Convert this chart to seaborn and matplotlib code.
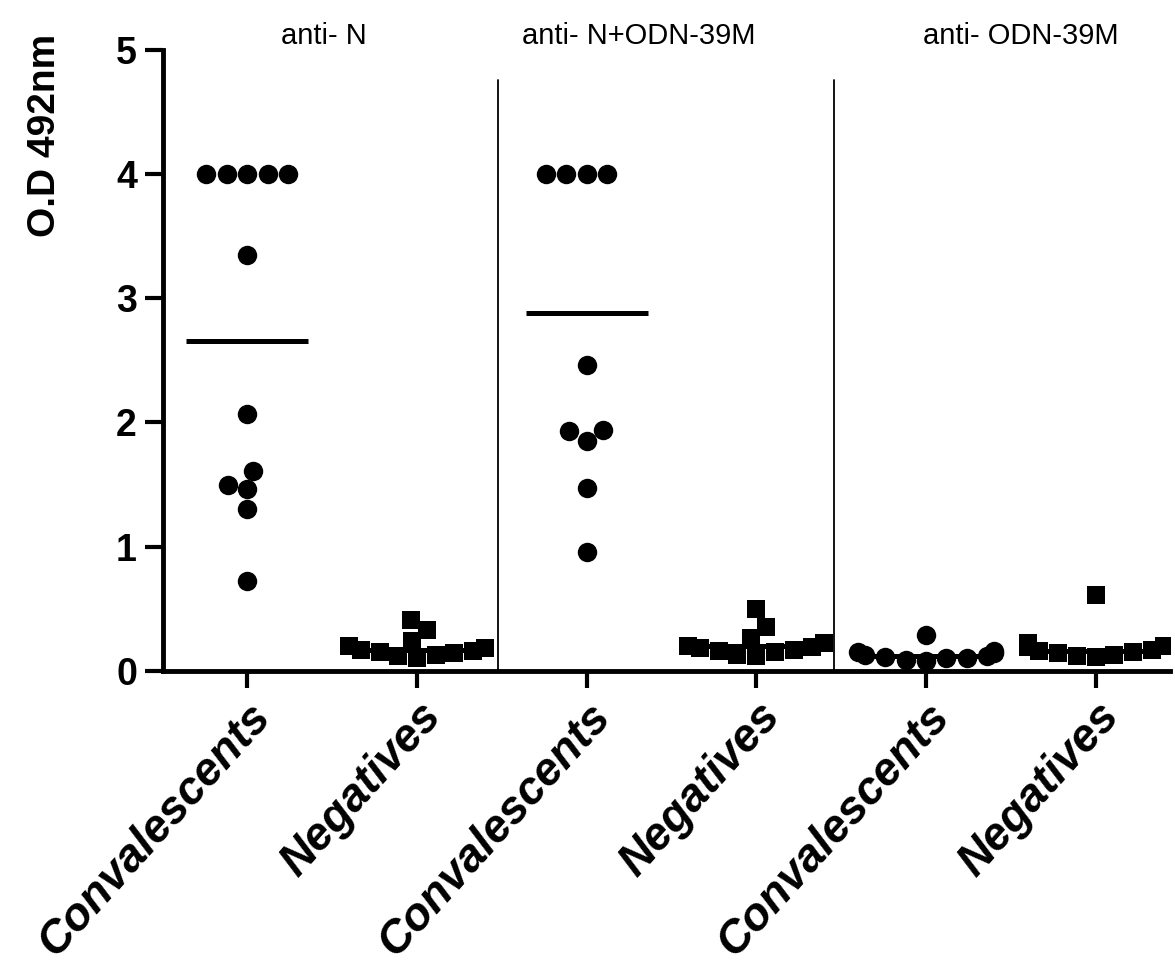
import pandas as pd
import seaborn as sns
import matplotlib.pyplot as plt

# groups, in plot order
groups = ["N_conv", "N_neg", "NODN_conv", "NODN_neg", "ODN_conv", "ODN_neg"]
tick_labels = ["Convalescents", "Negatives"] * 3
panel_titles = ["anti- N", "anti- N+ODN-39M", "anti- ODN-39M"]

# O.D 492nm values
n_conv = [4.0, 4.0, 4.0, 4.0, 4.0, 3.35, 2.07, 1.61, 1.5, 1.46, 1.3, 0.72]
n_neg = [0.41, 0.33, 0.24, 0.2, 0.18, 0.17, 0.16, 0.15, 0.14, 0.13,
         0.12, 0.1]
nodn_conv = [4.0, 4.0, 4.0, 4.0, 2.46, 1.94, 1.93, 1.85, 1.47, 0.96]
nodn_neg = [0.5, 0.35, 0.26, 0.22, 0.2, 0.19, 0.18, 0.17, 0.16, 0.15,
            0.13, 0.12]
odn_conv = [0.29, 0.16, 0.15, 0.14, 0.13, 0.12, 0.11, 0.1, 0.1, 0.09,
            0.08]
odn_neg = [0.61, 0.22, 0.2, 0.19, 0.17, 0.16, 0.15, 0.14, 0.13, 0.12,
           0.11]
# mean lines as drawn in the figure
means = [2.66, 0.17, 2.88, 0.2, 0.12, 0.16]

values = [n_conv, n_neg, nodn_conv, nodn_neg, odn_conv, odn_neg]
df = pd.DataFrame({"group": [g for g, v in zip(groups, values) for _ in v],
                   "od": [x for v in values for x in v]})
df_mean = pd.DataFrame({"group": groups, "od": means})

sns.set_style("ticks")
plt.rcParams["font.family"] = ["Liberation Sans", "DejaVu Sans"]
plt.rcParams.update({"text.color": "black", "axes.labelcolor": "black",
                     "xtick.color": "black", "ytick.color": "black",
                     "axes.edgecolor": "black"})

fig = plt.figure(figsize=(11.75, 9.65), dpi=100)
ax = fig.add_axes([0.139, 0.305, 0.857, 0.643])

sns.pointplot(data=df_mean, x="group", y="od", order=groups, color="black",
              markers="_", linestyle="none", markersize=88,
              markeredgewidth=3.6, errorbar=None, ax=ax, zorder=2)

conv = df[df.group.str.endswith("conv")]
neg = df[df.group.str.endswith("neg")]
sns.swarmplot(data=conv, x="group", y="od", order=groups, color="black",
              marker="o", size=14, ax=ax, zorder=3)
sns.swarmplot(data=neg, x="group", y="od", order=groups, color="black",
              marker="s", size=13, ax=ax, zorder=3)

# separators between the three assays
for xs in [1.48, 3.46]:
    ax.axvline(xs, ymin=0, ymax=4.76 / 5, color="black", lw=1.3)

for xt, t in zip([0.45, 2.31, 4.56], panel_titles):
    ax.text(xt, 1.0, t, transform=ax.get_xaxis_transform(), ha="center",
            va="bottom", fontsize=21)

ax.set_xlim(-0.495, 5.44)
ax.set_ylim(0, 5)
ax.set_yticks([0, 1, 2, 3, 4, 5])
ax.set_xticks(range(len(groups)))
ax.set_xticklabels(tick_labels, rotation=48, ha="right",
                   rotation_mode="anchor", fontsize=33, fontweight="bold",
                   fontstyle="italic")
for lab in ax.get_yticklabels():
    lab.set_fontsize(27)
    lab.set_fontweight("bold")
ax.set_xlabel("")
ax.set_ylabel("O.D 492nm", fontsize=28, fontweight="bold", va="center")
ax.yaxis.set_label_coords(-0.118, 0.863)
ax.tick_params(axis="y", length=13, width=3, pad=6)
ax.tick_params(axis="x", length=12, width=3, pad=5)
sns.despine(ax=ax)
for s in ["left", "bottom"]:
    ax.spines[s].set_linewidth(3.5)

fig.savefig("out.png", dpi=100)
